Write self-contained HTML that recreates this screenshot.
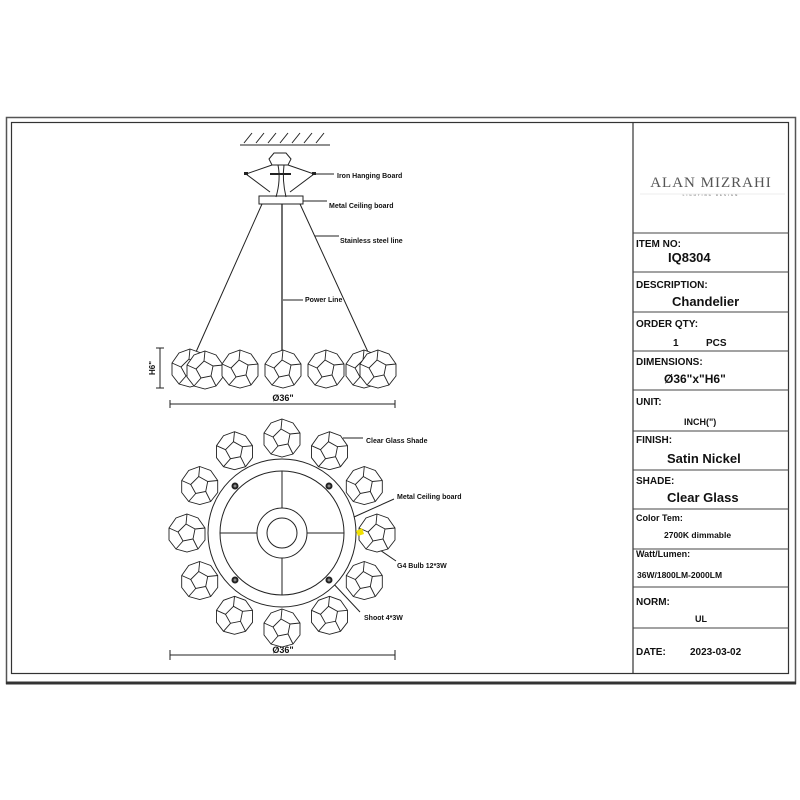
<!DOCTYPE html>
<html><head><meta charset="utf-8"><style>
body{margin:0;background:#fff;width:800px;height:800px;overflow:hidden}
svg{display:block}
text{font-family:"Liberation Sans",sans-serif;font-weight:bold;fill:#111}
</style></head><body>
<svg width="800" height="800" viewBox="0 0 800 800">
<defs>
<g id="gl" fill="#fff" stroke="#222" stroke-width="0.9">
<polygon points="0,-19 11,-15 18,-5 18,7 11,16 0,19 -11,16 -18,7 -18,-5 -11,-15"/>
<polygon points="-1,-9 8,-4 6,6 -4,8 -9,-1" fill="none"/>
<path d="M-1,-9 L0,-19 M8,-4 L18,-5 M6,6 L11,16 M-4,8 L-11,16 M-9,-1 L-18,-5" fill="none"/>
</g>
</defs>
<rect x="6.5" y="117.5" width="789" height="566" fill="none" stroke="#555" stroke-width="1.5"/>
<line x1="6" y1="683" x2="796" y2="683" stroke="#333" stroke-width="3"/>
<rect x="11.5" y="122.5" width="777" height="551" fill="none" stroke="#333" stroke-width="1.2"/>
<line x1="633" y1="122" x2="633" y2="673" stroke="#333" stroke-width="1.2"/>
<g stroke="#444" stroke-width="1">
<line x1="633" y1="233" x2="789" y2="233"/><line x1="633" y1="272" x2="789" y2="272"/>
<line x1="633" y1="312" x2="789" y2="312"/><line x1="633" y1="351" x2="789" y2="351"/>
<line x1="633" y1="390" x2="789" y2="390"/><line x1="633" y1="431" x2="789" y2="431"/>
<line x1="633" y1="470" x2="789" y2="470"/><line x1="633" y1="509" x2="789" y2="509"/>
<line x1="633" y1="549" x2="789" y2="549"/><line x1="633" y1="587" x2="789" y2="587"/>
<line x1="633" y1="628" x2="789" y2="628"/>
</g>
<text x="711" y="187" text-anchor="middle" style="font-family:'Liberation Serif',serif;font-weight:normal;font-size:15px;fill:#555;letter-spacing:1px">ALAN MIZRAHI</text>
<text x="711" y="196" text-anchor="middle" style="font-size:3px;fill:#888;letter-spacing:2px">LIGHTING DESIGN</text>
<line x1="640" y1="194" x2="785" y2="194" stroke="#ddd" stroke-width="0.5"/>
<g font-size="10">
<text x="636" y="247">ITEM NO:</text>
<text x="668" y="262" font-size="13">IQ8304</text>
<text x="636" y="288">DESCRIPTION:</text>
<text x="672" y="306" font-size="13">Chandelier</text>
<text x="636" y="327">ORDER QTY:</text>
<text x="673" y="346">1</text><text x="706" y="346">PCS</text>
<text x="636" y="365">DIMENSIONS:</text>
<text x="664" y="383" font-size="12">Ø36"x"H6"</text>
<text x="636" y="405">UNIT:</text>
<text x="684" y="425" font-size="9">INCH(")</text>
<text x="636" y="443">FINISH:</text>
<text x="667" y="463" font-size="13">Satin Nickel</text>
<text x="636" y="484">SHADE:</text>
<text x="667" y="502" font-size="13">Clear Glass</text>
<text x="636" y="521" font-size="9">Color Tem:</text>
<text x="664" y="538" font-size="8.5">2700K dimmable</text>
<text x="636" y="557" font-size="9">Watt/Lumen:</text>
<text x="637" y="578" font-size="8.5">36W/1800LM-2000LM</text>
<text x="636" y="605">NORM:</text>
<text x="695" y="622" font-size="9">UL</text>
<text x="636" y="655">DATE:</text>
<text x="690" y="655">2023-03-02</text>
</g>
<g stroke="#222" fill="none" stroke-width="1">
<line x1="240" y1="145" x2="330" y2="145"/>
<path d="M244,143 l8,-10 M256,143 l8,-10 M268,143 l8,-10 M280,143 l8,-10 M292,143 l8,-10 M304,143 l8,-10 M316,143 l8,-10"/>
<polygon points="274,153 286,153 291,159 288,165 272,165 269,159"/>
<path d="M272,165 L246,174 L270,192 M288,165 L314,174 L290,192"/>
<line x1="270" y1="174" x2="291" y2="174" stroke-width="2"/>
<path d="M278,165 q3,15 -2,32 M284,165 q-2,15 2,32"/>
<rect x="259" y="196" width="44" height="8"/>
<path d="M262,204 L196,352 M300,204 L368,352"/>
<line x1="282" y1="204" x2="282" y2="352" stroke-width="1.3"/>
<path d="M314,174 h20 M303,201 h24 M315,236 h24 M283,300 h20 M343,438 h20 M354,517 l40,-18 M358,535 l38,26 M330,580 l30,32"/>
<path d="M160,348 v40 M156,348 h8 M156,388 h8"/>
<path d="M170,404 h225 M170,400 v8 M395,400 v8"/>
<path d="M170,655 h225 M170,650 v10 M395,650 v10"/>
</g>
<rect x="244" y="172" width="4" height="3" fill="#222"/><rect x="312" y="172" width="4" height="3" fill="#222"/>
<use href="#gl" x="190" y="368"/><use href="#gl" x="205" y="370"/><use href="#gl" x="240" y="369"/>
<use href="#gl" x="283" y="369"/><use href="#gl" x="326" y="369"/><use href="#gl" x="364" y="369"/><use href="#gl" x="378" y="369"/>
<g font-size="7">
<text x="337" y="178">Iron Hanging Board</text>
<text x="329" y="208">Metal Ceiling board</text>
<text x="340" y="243">Stainless steel line</text>
<text x="305" y="302">Power Line</text>
<text x="155" y="368" transform="rotate(-90 155 368)" text-anchor="middle" font-size="8">H6"</text>
<text x="283" y="401" text-anchor="middle" font-size="9">Ø36"</text>
<text x="366" y="443">Clear Glass Shade</text>
<text x="397" y="499">Metal Ceiling board</text>
<text x="397" y="568">G4 Bulb 12*3W</text>
<text x="364" y="620">Shoot  4*3W</text>
<text x="283" y="653" text-anchor="middle" font-size="9">Ø36"</text>
</g>
<g>
<use href="#gl" x="282" y="438"/><use href="#gl" x="329.5" y="450.7"/><use href="#gl" x="364.3" y="485.5"/>
<use href="#gl" x="377" y="533"/><use href="#gl" x="364.3" y="580.5"/><use href="#gl" x="329.5" y="615.3"/>
<use href="#gl" x="282" y="628"/><use href="#gl" x="234.5" y="615.3"/><use href="#gl" x="199.7" y="580.5"/>
<use href="#gl" x="187" y="533"/><use href="#gl" x="199.7" y="485.5"/><use href="#gl" x="234.5" y="450.7"/>
</g>
<g stroke="#222" fill="none" stroke-width="1">
<circle cx="282" cy="533" r="74" fill="#fff"/>
<circle cx="282" cy="533" r="62"/>
<circle cx="282" cy="533" r="25"/>
<circle cx="282" cy="533" r="15"/>
<path d="M282,471 v37 M282,558 v37 M220,533 h37 M307,533 h37"/>
</g>
<g fill="#222"><circle cx="235" cy="486" r="3.5"/><circle cx="329" cy="486" r="3.5"/><circle cx="235" cy="580" r="3.5"/><circle cx="329" cy="580" r="3.5"/></g>
<g fill="#888"><circle cx="235" cy="486" r="1.5"/><circle cx="329" cy="486" r="1.5"/><circle cx="235" cy="580" r="1.5"/><circle cx="329" cy="580" r="1.5"/></g>
<polygon points="356,531 362,528 364,534 358,536" fill="#f0e000"/>
</svg>
</body></html>
